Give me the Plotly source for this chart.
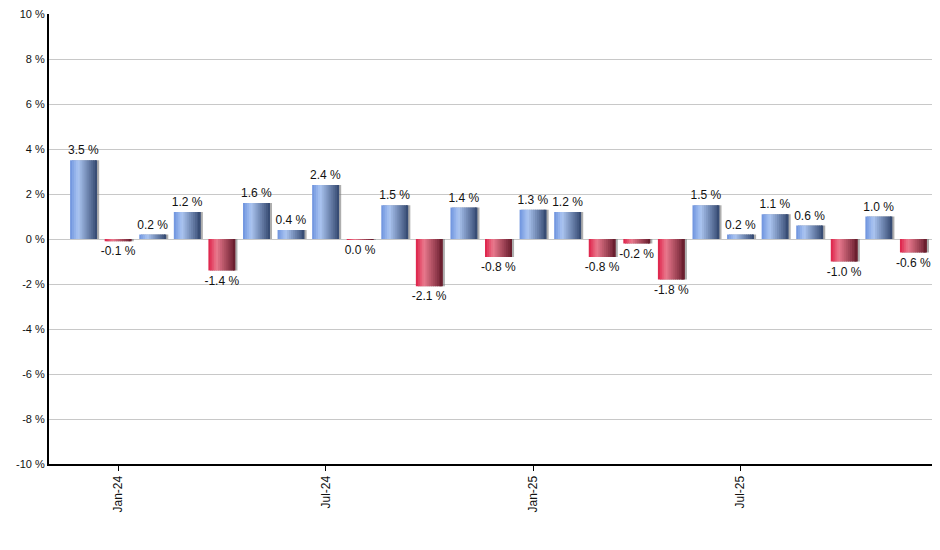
import plotly.graph_objects as go

# monthly returns, Dec-23 .. Dec-25
months = ["Dec-23", "Jan-24", "Feb-24", "Mar-24", "Apr-24", "May-24", "Jun-24",
          "Jul-24", "Aug-24", "Sep-24", "Oct-24", "Nov-24", "Dec-24",
          "Jan-25", "Feb-25", "Mar-25", "Apr-25", "May-25", "Jun-25",
          "Jul-25", "Aug-25", "Sep-25", "Oct-25", "Nov-25", "Dec-25"]
returns = [3.5, -0.1, 0.2, 1.2, -1.4, 1.6, 0.4, 2.4, -0.04, 1.5, -2.1, 1.4, -0.8,
           1.3, 1.2, -0.8, -0.2, -1.8, 1.5, 0.2, 1.1, 0.6, -1.0, 1.0, -0.6]
tick_labels = ["Jan-24", "Jul-24", "Jan-25", "Jul-25"]
y_ticks = [-10, -8, -6, -4, -2, 0, 2, 4, 6, 8, 10]

x = list(range(len(months)))
labels = []
for v in returns:
    v = round(v, 1)
    labels.append(f"{abs(v) if v == 0 else v:.1f} %")

BAR_W = 0.78
N = 14

blue_stops = [(0.0, (108, 146, 222)), (0.3, (172, 198, 242)), (1.0, (50, 70, 110))]
red_stops = [(0.0, (222, 30, 70)), (0.3, (234, 122, 142)), (1.0, (100, 26, 42))]


def grad(stops, t):
    for (t0, c0), (t1, c1) in zip(stops[:-1], stops[1:]):
        if t <= t1:
            f = (t - t0) / (t1 - t0)
            c = [round(a + (b - a) * f) for a, b in zip(c0, c1)]
            return "rgb(%d,%d,%d)" % tuple(c)
    return "rgb(%d,%d,%d)" % stops[-1][1]


fig = go.Figure()

# drop shadow
fig.add_trace(go.Bar(
    x=x, y=returns, width=BAR_W, offset=-BAR_W / 2 + 0.06,
    marker=dict(color="rgba(120,120,120,0.6)", line=dict(width=0)),
    hoverinfo="skip", showlegend=False
))

# gradient slices
sw = BAR_W / N
for i in range(N):
    t = (i + 0.5) / N
    cols = [grad(blue_stops, t) if v >= 0 else grad(red_stops, t) for v in returns]
    fig.add_trace(go.Bar(
        x=x, y=returns,
        width=sw * 1.4 if i < N - 1 else sw,
        offset=-BAR_W / 2 + i * sw,
        marker=dict(color=cols, line=dict(width=0)),
        hoverinfo="skip", showlegend=False
    ))

# value labels
fig.add_trace(go.Bar(
    x=x, y=returns, width=BAR_W,
    marker=dict(color="rgba(0,0,0,0)", line=dict(width=0)),
    text=labels, textposition="outside", cliponaxis=False,
    constraintext="none",
    textfont=dict(family="Liberation Sans, Arial, sans-serif", size=12, color="#111"),
    hovertemplate="%{text}<extra></extra>", showlegend=False
))

fig.update_layout(
    barmode="overlay",
    width=940, height=550,
    margin=dict(l=41, r=0, t=6, b=94, autoexpand=False),
    plot_bgcolor="white", paper_bgcolor="white",
    font=dict(family="Liberation Sans, Arial, sans-serif", size=12, color="#111"),
    xaxis=dict(
        range=[-1, 25], tickmode="array",
        tickvals=[months.index(m) for m in tick_labels], ticktext=tick_labels,
        tickangle=-90, ticks="outside", ticklen=5, tickcolor="black",
        showline=True, linecolor="black", linewidth=2, showgrid=False,
        zeroline=False, automargin=False
    ),
    yaxis=dict(
        range=[-10, 10], tickmode="array", tickvals=y_ticks,
        ticktext=[f"{v} %" for v in y_ticks],
        tickfont=dict(size=11), ticklabeloverflow="allow",
        showline=True, linecolor="black", linewidth=2,
        showgrid=True, gridcolor="#c8c8c8", gridwidth=1,
        zeroline=False, ticks="", automargin=False
    ),
)

fig.write_html("out.html")
